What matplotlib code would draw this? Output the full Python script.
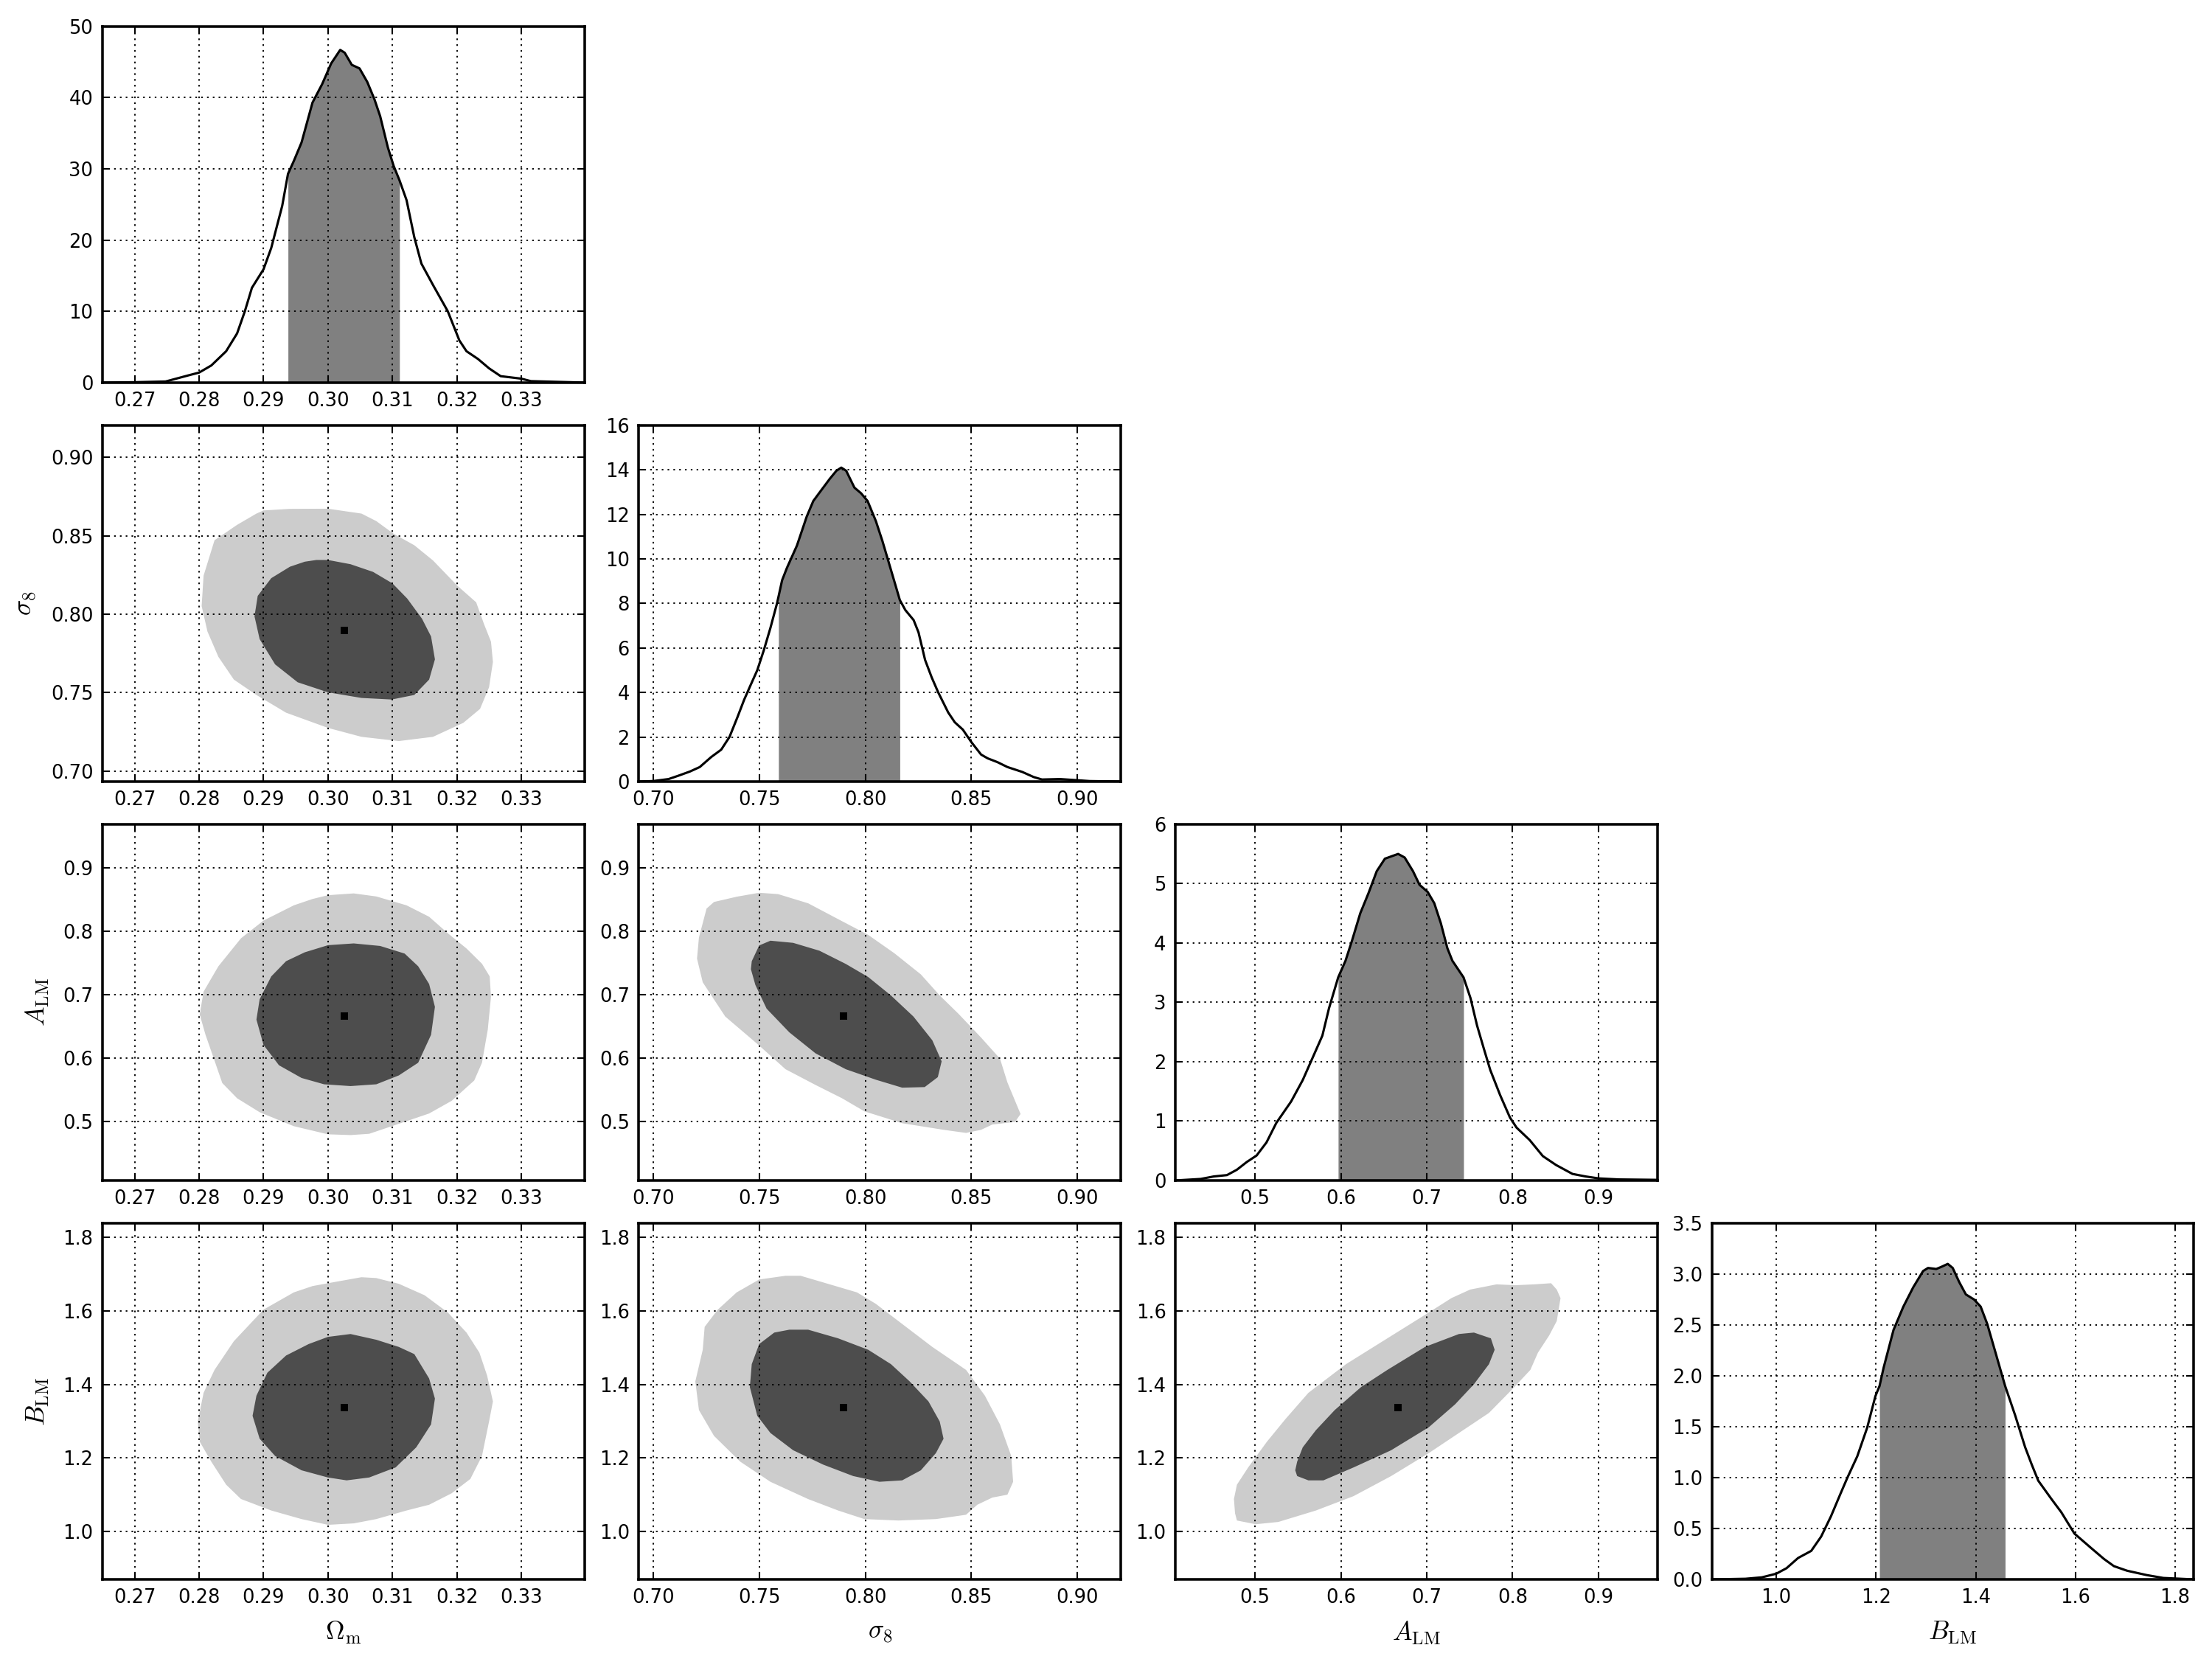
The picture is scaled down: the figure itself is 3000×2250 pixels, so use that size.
import numpy as np
import matplotlib.pyplot as plt

plt.rcParams['mathtext.fontset'] = 'cm'
plt.rcParams['font.family'] = 'DejaVu Sans'

# parameters, in the order of the corner plot
labels = [r'$\Omega_{\rm m}$', r'$\sigma_8$', r'$A_{\rm LM}$', r'$B_{\rm LM}$']
means = [0.3025, 0.7898, 0.6668, 1.338]
limits = [(0.265, 0.3398), (0.6933, 0.9205), (0.4073, 0.9686), (0.8706, 1.8376)]
ticks = [[0.27, 0.28, 0.29, 0.30, 0.31, 0.32, 0.33],
         [0.70, 0.75, 0.80, 0.85, 0.90],
         [0.5, 0.6, 0.7, 0.8, 0.9],
         [1.0, 1.2, 1.4, 1.6, 1.8]]
pdf_top = [50, 16, 6, 3.5]
pdf_ticks = [[0, 10, 20, 30, 40, 50],
             [0, 2, 4, 6, 8, 10, 12, 14, 16],
             [0, 1, 2, 3, 4, 5, 6],
             [0.0, 0.5, 1.0, 1.5, 2.0, 2.5, 3.0, 3.5]]
# shaded 68% intervals of the marginals
intervals = [(0.2938, 0.3111), (0.7591, 0.8163), (0.5969, 0.7429), (1.207, 1.459)]

# marginal densities
om_pdf_x = [0.2650, 0.2700, 0.2748, 0.2783, 0.2800, 0.2819, 0.2842, 0.2859, 0.2871, 0.2882,
            0.2900, 0.2912, 0.2929, 0.2938, 0.2947, 0.2959, 0.2976, 0.2991, 0.3005, 0.3019,
            0.3026, 0.3037, 0.3049, 0.3061, 0.3072, 0.3081, 0.3093, 0.3102, 0.3111, 0.3122,
            0.3134, 0.3145, 0.3163, 0.3186, 0.3204, 0.3215, 0.3233, 0.3250, 0.3268, 0.3300,
            0.3315, 0.3398]
om_pdf_y = [0.0, 0.05, 0.15, 1.0, 1.4, 2.4, 4.4, 6.9, 10.0, 13.3,
            15.9, 18.9, 24.8, 29.3, 31.1, 33.7, 39.3, 41.9, 44.8, 46.7,
            46.3, 44.6, 44.1, 42.2, 39.8, 37.4, 33.0, 30.4, 28.4, 25.6,
            20.4, 16.7, 13.7, 10.0, 5.9, 4.4, 3.3, 2.0, 0.9, 0.55,
            0.2, 0.0]

s8_pdf_x = [0.6933, 0.7000, 0.7073, 0.7119, 0.7174, 0.7220, 0.7274, 0.7321, 0.7360, 0.7398,
            0.7429, 0.7460, 0.7491, 0.7522, 0.7553, 0.7584, 0.7591, 0.7608, 0.7631, 0.7678,
            0.7724, 0.7755, 0.7786, 0.7833, 0.7864, 0.7887, 0.7910, 0.7949, 0.7980, 0.8011,
            0.8050, 0.8081, 0.8112, 0.8143, 0.8163, 0.8189, 0.8228, 0.8251, 0.8282, 0.8313,
            0.8344, 0.8391, 0.8422, 0.8460, 0.8500, 0.8546, 0.8577, 0.8623, 0.8670, 0.8740,
            0.8794, 0.8833, 0.8918, 0.8980, 0.9057, 0.9205]
s8_pdf_y = [0.0, 0.02, 0.11, 0.26, 0.45, 0.65, 1.1, 1.43, 2.0, 2.9,
            3.67, 4.34, 5.0, 5.9, 6.9, 8.0, 8.3, 9.04, 9.6, 10.6,
            11.9, 12.6, 13.0, 13.6, 13.96, 14.1, 13.96, 13.2, 12.95, 12.6,
            11.7, 10.8, 9.8, 8.8, 8.15, 7.7, 7.25, 6.7, 5.46, 4.68,
            4.0, 3.1, 2.66, 2.33, 1.77, 1.21, 1.04, 0.87, 0.65, 0.43,
            0.2, 0.09, 0.11, 0.07, 0.02, 0.0]

alm_pdf_x = [0.4073, 0.4368, 0.4520, 0.4674, 0.4789, 0.4904, 0.5019, 0.5134, 0.5249, 0.5421,
             0.5556, 0.5709, 0.5785, 0.5862, 0.5969, 0.6054, 0.6130, 0.6226, 0.6322, 0.6418,
             0.6513, 0.6667, 0.6743, 0.6840, 0.6916, 0.7011, 0.7088, 0.7165, 0.7241, 0.7299,
             0.7429, 0.7510, 0.7586, 0.7663, 0.7740, 0.7854, 0.7969, 0.8046, 0.8199, 0.8352,
             0.8506, 0.8697, 0.8850, 0.9004, 0.9234, 0.9686]
alm_pdf_y = [0.0, 0.025, 0.067, 0.09, 0.18, 0.31, 0.42, 0.64, 0.97, 1.33,
             1.69, 2.19, 2.44, 2.9, 3.42, 3.70, 4.04, 4.5, 4.84, 5.21,
             5.42, 5.5, 5.44, 5.21, 4.98, 4.86, 4.67, 4.33, 3.91, 3.70,
             3.42, 3.07, 2.61, 2.23, 1.86, 1.44, 1.06, 0.89, 0.68, 0.41,
             0.26, 0.11, 0.067, 0.034, 0.017, 0.01]

blm_pdf_x = [0.8706, 0.9380, 0.9710, 1.0000, 1.0205, 1.0436, 1.0700, 1.0898, 1.1096, 1.1294,
             1.1426, 1.1624, 1.1822, 1.1987, 1.2070, 1.2152, 1.2350, 1.2548, 1.2746, 1.2944,
             1.3043, 1.3208, 1.3307, 1.3439, 1.3538, 1.3670, 1.3802, 1.3967, 1.4099, 1.4231,
             1.4396, 1.4590, 1.4792, 1.4990, 1.5122, 1.5254, 1.5518, 1.5716, 1.5980, 1.6310,
             1.6574, 1.6772, 1.7036, 1.7432, 1.7762, 1.8376]
blm_pdf_y = [0.0, 0.006, 0.02, 0.056, 0.11, 0.21, 0.28, 0.42, 0.62, 0.85,
             1.0, 1.21, 1.49, 1.80, 1.90, 2.08, 2.45, 2.68, 2.87, 3.03,
             3.06, 3.05, 3.07, 3.10, 3.06, 2.92, 2.80, 2.75, 2.68, 2.51,
             2.23, 1.90, 1.61, 1.30, 1.13, 0.97, 0.79, 0.66, 0.45, 0.31,
             0.20, 0.13, 0.085, 0.042, 0.014, 0.0]

# 2D credible regions (95% outer, 68% inner), boundary points
om_s8_95 = [(0.2900, 0.8662), (0.2941, 0.8672), (0.3000, 0.8673), (0.3052, 0.8642), (0.3075, 0.8594),
            (0.3102, 0.8513), (0.3134, 0.8440), (0.3163, 0.8343), (0.3201, 0.8181), (0.3230, 0.8076),
            (0.3242, 0.7939), (0.3253, 0.7825), (0.3256, 0.7696), (0.3250, 0.7534), (0.3236, 0.7396),
            (0.3210, 0.7307), (0.3163, 0.7218), (0.3110, 0.7191), (0.3052, 0.7218), (0.3000, 0.7275),
            (0.2935, 0.7372), (0.2889, 0.7485), (0.2854, 0.7583), (0.2830, 0.7728), (0.2813, 0.7890),
            (0.2804, 0.8052), (0.2807, 0.8246), (0.2824, 0.8472), (0.2859, 0.8570), (0.2889, 0.8642)]
om_s8_68 = [(0.2982, 0.8346), (0.3000, 0.8346), (0.3035, 0.8319), (0.3070, 0.8270), (0.3100, 0.8197),
            (0.3123, 0.8100), (0.3146, 0.7971), (0.3160, 0.7858), (0.3166, 0.7712), (0.3157, 0.7583),
            (0.3134, 0.7485), (0.3099, 0.7456), (0.3052, 0.7466), (0.3000, 0.7502), (0.2953, 0.7566),
            (0.2918, 0.7680), (0.2894, 0.7841), (0.2886, 0.7987), (0.2891, 0.8117), (0.2912, 0.8230),
            (0.2941, 0.8303), (0.2964, 0.8335)]

om_alm_95 = [(0.3000, 0.8568), (0.3040, 0.8596), (0.3075, 0.8548), (0.3122, 0.8408), (0.3157, 0.8228),
             (0.3186, 0.7968), (0.3215, 0.7728), (0.3239, 0.7488), (0.3251, 0.7288), (0.3253, 0.6968),
             (0.3248, 0.6448), (0.3239, 0.5928), (0.3227, 0.5648), (0.3192, 0.5328), (0.3157, 0.5128),
             (0.3099, 0.4928), (0.3064, 0.4808), (0.3035, 0.4788), (0.3000, 0.4800), (0.2947, 0.4928),
             (0.2894, 0.5148), (0.2859, 0.5368), (0.2836, 0.5608), (0.2821, 0.6048), (0.2810, 0.6368),
             (0.2801, 0.6688), (0.2807, 0.7048), (0.2830, 0.7448), (0.2865, 0.7888), (0.2900, 0.8168),
             (0.2947, 0.8408), (0.2976, 0.8508)]
om_alm_68 = [(0.3000, 0.7780), (0.3040, 0.7808), (0.3081, 0.7768), (0.3119, 0.7648), (0.3140, 0.7448),
             (0.3157, 0.7168), (0.3166, 0.6808), (0.3160, 0.6368), (0.3140, 0.5928), (0.3110, 0.5728),
             (0.3075, 0.5588), (0.3035, 0.5560), (0.2994, 0.5588), (0.2959, 0.5688), (0.2924, 0.5888),
             (0.2900, 0.6208), (0.2889, 0.6608), (0.2894, 0.6928), (0.2912, 0.7288), (0.2935, 0.7528),
             (0.2964, 0.7668)]

om_blm_95 = [(0.3000, 1.6746), (0.3052, 1.6909), (0.3075, 1.6886), (0.3110, 1.6730), (0.3150, 1.6419),
             (0.3186, 1.5951), (0.3215, 1.5406), (0.3235, 1.4861), (0.3247, 1.4238), (0.3256, 1.3537),
             (0.3250, 1.2991), (0.3239, 1.2056), (0.3221, 1.1433), (0.3192, 1.1044), (0.3157, 1.0732),
             (0.3122, 1.0576), (0.3075, 1.0343), (0.3040, 1.0226), (0.3000, 1.0187), (0.2959, 1.0343),
             (0.2912, 1.0576), (0.2865, 1.0888), (0.2842, 1.1277), (0.2819, 1.1901), (0.2801, 1.2446),
             (0.2798, 1.2991), (0.2807, 1.3770), (0.2824, 1.4393), (0.2854, 1.5172), (0.2900, 1.6029),
             (0.2947, 1.6497), (0.2976, 1.6668)]
om_blm_68 = [(0.3000, 1.5289), (0.3035, 1.5367), (0.3075, 1.5211), (0.3110, 1.5016), (0.3134, 1.4822),
             (0.3157, 1.4160), (0.3166, 1.3614), (0.3160, 1.2913), (0.3137, 1.2290), (0.3105, 1.1745),
             (0.3064, 1.1472), (0.3029, 1.1394), (0.3000, 1.1472), (0.2959, 1.1667), (0.2918, 1.2056),
             (0.2894, 1.2524), (0.2883, 1.3147), (0.2889, 1.3692), (0.2906, 1.4316), (0.2935, 1.4783),
             (0.2970, 1.5094)]

s8_alm_95 = [(0.7287, 0.8461), (0.7394, 0.8544), (0.7500, 0.8606), (0.7589, 0.8585), (0.7731, 0.8440),
             (0.7872, 0.8191), (0.8014, 0.7942), (0.8138, 0.7651), (0.8262, 0.7320), (0.8351, 0.6988),
             (0.8440, 0.6697), (0.8546, 0.6324), (0.8635, 0.5992), (0.8670, 0.5618), (0.8706, 0.5328),
             (0.8732, 0.5120), (0.8706, 0.4996), (0.8599, 0.4954), (0.8546, 0.4871), (0.8475, 0.4822),
             (0.8369, 0.4871), (0.8174, 0.4975), (0.7996, 0.5162), (0.7890, 0.5369), (0.7766, 0.5577),
             (0.7624, 0.5826), (0.7500, 0.6199), (0.7340, 0.6656), (0.7234, 0.7195), (0.7207, 0.7568),
             (0.7216, 0.7900), (0.7252, 0.8357)]
s8_alm_68 = [(0.7465, 0.7527), (0.7500, 0.7776), (0.7553, 0.7851), (0.7660, 0.7817), (0.7784, 0.7693),
             (0.7908, 0.7485), (0.8014, 0.7278), (0.8121, 0.6988), (0.8227, 0.6656), (0.8316, 0.6282),
             (0.8360, 0.5950), (0.8342, 0.5701), (0.8280, 0.5544), (0.8174, 0.5535), (0.8050, 0.5660),
             (0.7908, 0.5826), (0.7766, 0.6075), (0.7642, 0.6407), (0.7535, 0.6780), (0.7482, 0.7154),
             (0.7461, 0.7402)]

s8_blm_95 = [(0.7500, 1.6847), (0.7624, 1.6948), (0.7695, 1.6948), (0.7801, 1.6769), (0.7961, 1.6497),
             (0.8050, 1.6185), (0.8174, 1.5640), (0.8316, 1.5017), (0.8475, 1.4393), (0.8564, 1.3692),
             (0.8635, 1.2913), (0.8688, 1.2056), (0.8697, 1.1355), (0.8670, 1.1005), (0.8599, 1.0927),
             (0.8528, 1.0732), (0.8475, 1.0460), (0.8333, 1.0343), (0.8156, 1.0304), (0.7996, 1.0343),
             (0.7872, 1.0576), (0.7730, 1.0888), (0.7553, 1.1355), (0.7411, 1.1901), (0.7287, 1.2602),
             (0.7216, 1.3303), (0.7199, 1.4082), (0.7234, 1.4939), (0.7243, 1.5562), (0.7305, 1.6029),
             (0.7394, 1.6497)]
s8_blm_68 = [(0.7571, 1.5406), (0.7642, 1.5484), (0.7731, 1.5484), (0.7872, 1.5250), (0.8014, 1.4939),
             (0.8121, 1.4549), (0.8209, 1.4082), (0.8298, 1.3537), (0.8351, 1.2991), (0.8369, 1.2524),
             (0.8333, 1.2134), (0.8262, 1.1667), (0.8174, 1.1394), (0.8067, 1.1355), (0.7943, 1.1511),
             (0.7801, 1.1823), (0.7660, 1.2212), (0.7553, 1.2680), (0.7491, 1.3147), (0.7456, 1.3926),
             (0.7465, 1.4549), (0.7500, 1.5094)]

alm_blm_95 = [(0.4790, 1.0304), (0.5009, 1.0203), (0.5272, 1.0265), (0.5710, 1.0576), (0.6148, 1.0966),
              (0.6586, 1.1511), (0.7024, 1.2134), (0.7375, 1.2680), (0.7725, 1.3225), (0.7988, 1.3848),
              (0.8207, 1.4393), (0.8295, 1.4861), (0.8426, 1.5328), (0.8514, 1.5718), (0.8558, 1.6341),
              (0.8514, 1.6574), (0.8448, 1.6746), (0.8251, 1.6715), (0.8032, 1.6692), (0.7813, 1.6715),
              (0.7506, 1.6574), (0.7287, 1.6341), (0.7024, 1.5951), (0.6542, 1.5250), (0.6060, 1.4549),
              (0.5622, 1.3770), (0.5359, 1.3069), (0.5140, 1.2446), (0.4921, 1.1745), (0.4790, 1.1277),
              (0.4755, 1.0888), (0.4768, 1.0499)]
alm_blm_68 = [(0.5491, 1.1511), (0.5622, 1.1394), (0.5797, 1.1394), (0.6148, 1.1745), (0.6586, 1.2212),
              (0.7024, 1.2836), (0.7331, 1.3459), (0.7550, 1.4004), (0.7725, 1.4549), (0.7791, 1.4939),
              (0.7747, 1.5250), (0.7550, 1.5406), (0.7375, 1.5367), (0.6980, 1.5017), (0.6542, 1.4393),
              (0.6235, 1.3926), (0.5929, 1.3303), (0.5710, 1.2758), (0.5556, 1.2290), (0.5491, 1.1901),
              (0.5469, 1.1667)]

pdfs = [(om_pdf_x, om_pdf_y), (s8_pdf_x, s8_pdf_y), (alm_pdf_x, alm_pdf_y), (blm_pdf_x, blm_pdf_y)]
regions = {(1, 0): (om_s8_95, om_s8_68),
           (2, 0): (om_alm_95, om_alm_68),
           (3, 0): (om_blm_95, om_blm_68),
           (2, 1): (s8_alm_95, s8_alm_68),
           (3, 1): (s8_blm_95, s8_blm_68),
           (3, 2): (alm_blm_95, alm_blm_68)}

fig, axes = plt.subplots(4, 4, figsize=(10, 7.5), dpi=300)
fig.subplots_adjust(left=0.0463, right=0.9918, bottom=0.048, top=0.9841,
                    wspace=0.113, hspace=0.120)

for i in range(4):
    for j in range(4):
        ax = axes[i, j]
        if j > i:
            ax.axis('off')
            continue

        if i == j:
            x = np.array(pdfs[i][0])
            y = np.array(pdfs[i][1])
            lo, hi = intervals[i]
            ax.fill_between(x, y, where=(x >= lo) & (x <= hi), color='#808080', lw=0)
            ax.plot(x, y, color='k', lw=0.75, solid_joinstyle='round')
            ax.set_ylim(0, pdf_top[i])
            ax.set_yticks(pdf_ticks[i])
        else:
            outer, inner = regions[(i, j)]
            ax.fill([p[0] for p in outer], [p[1] for p in outer], color='#cccccc', lw=0)
            ax.fill([p[0] for p in inner], [p[1] for p in inner], color='#4d4d4d', lw=0)
            ax.plot(means[j], means[i], 's', color='k', ms=2.2, mew=0)
            ax.set_ylim(limits[i])
            ax.set_yticks(ticks[i])
            if j == 0:
                ax.set_ylabel(labels[i], fontsize=8.5)

        ax.set_xlim(limits[j])
        ax.set_xticks(ticks[j])
        if i == 3:
            ax.set_xlabel(labels[j], fontsize=8.5)

        ax.set_axisbelow(False)
        ax.grid(True, color='k', linewidth=0.45, dashes=(1.2, 3.0))
        ax.tick_params(direction='in', top=True, right=True, labelsize=6.2,
                       length=2.5, width=0.5, pad=3)
        for sp in ax.spines.values():
            sp.set_linewidth(0.85)

fig.savefig('out.png', dpi=300)
